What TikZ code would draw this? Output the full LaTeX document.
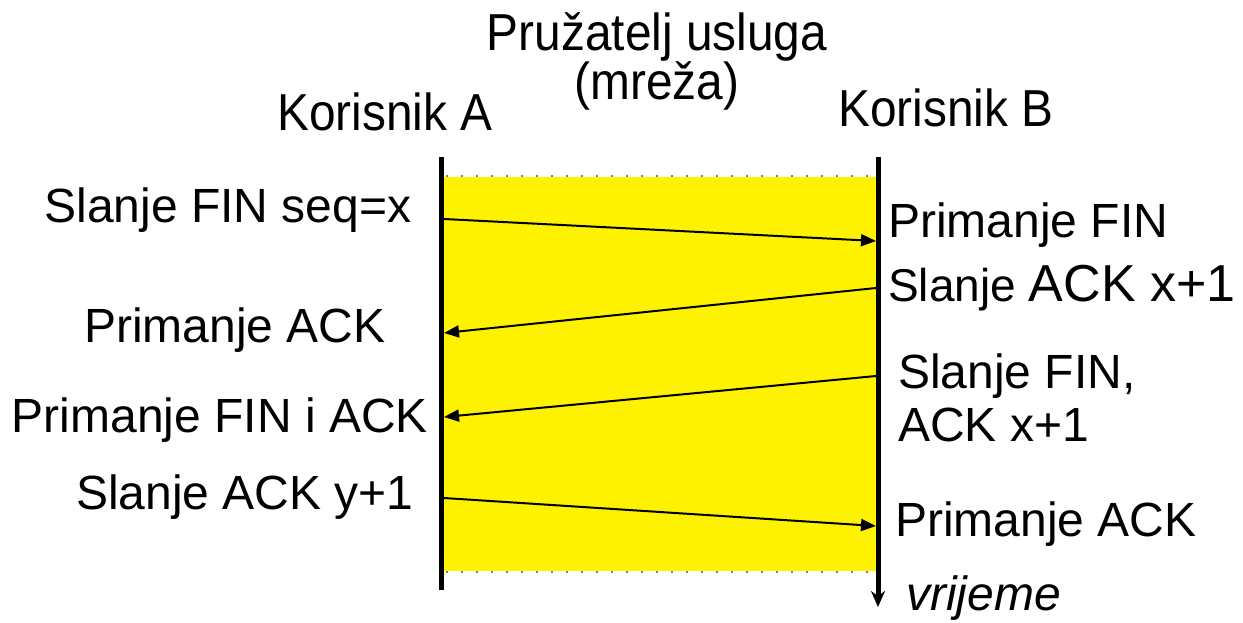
\documentclass[tikz,border=0pt]{standalone}
\usepackage{fontspec}
\setmainfont{Liberation Sans}
\usetikzlibrary{arrows.meta}

\newcommand{\narrowtxt}[1]{\scalebox{0.92}[1]{#1}}

\tikzset{
  lbl/.style={inner sep=0pt, font=\fontsize{48}{57}\selectfont},
  ttl/.style={inner sep=0pt, font=\fontsize{52}{60}\selectfont},
  msg/.style={line width=2pt, -{Triangle[length=15pt,width=12pt]}},
  lifeline/.style={line width=5pt},
  sep/.style={gray, line width=1.5pt, dash pattern=on 1.5pt off 13.5pt},
}

\begin{document}
\begin{tikzpicture}[x=1pt,y=-1pt]
\useasboundingbox (0,0) rectangle (1243,622);

% Network area
\fill[yellow] (444,177) rectangle (876,571);
\draw[sep] (446,176) -- (876,176);
\draw[sep] (446,572) -- (876,572);

% Lifelines
\coordinate (Atop) at (441,157);
\coordinate (Abot) at (441,590);
\coordinate (Btop) at (878,157);
\coordinate (Bbot) at (878,607);
\draw[lifeline] (Atop) -- (Abot);
\draw[lifeline, -{Stealth[length=16pt,width=14pt]}] (Btop) -- (Bbot);

% Headings
\node[ttl] (net) at (657,37) {\narrowtxt{Pružatelj usluga}};
\node[ttl] (netb) at (657,86) {\narrowtxt{(mreža)}};
\node[ttl] (userA) at (385,112) {\narrowtxt{Korisnik A}};
\node[ttl] (userB) at (946,108) {\narrowtxt{Korisnik B}};

% Left labels
\node[lbl] (sendfin) at (228,210) {Slanje FIN seq=x};
\node[lbl] (recack) at (235,330) {Primanje ACK};
\node[lbl] (recfinack) at (220,420) {Primanje FIN i ACK};
\node[lbl] (sendacky) at (245,497) {Slanje ACK y+1};

% Right labels
\node[lbl, anchor=west] (recfin) at (888,225) {Primanje FIN};
\node[lbl, anchor=west] (sendackx) at (888,288)
  {{\fontsize{46}{55}\selectfont Slanje }{\fontsize{52}{60}\selectfont ACK x+1}};
\node[lbl, anchor=west] (sendfinb) at (898,376) {Slanje FIN,};
\node[lbl, anchor=west] (ackx) at (898,425) {ACK x+1};
\node[lbl, anchor=west] (recackb) at (895,524) {Primanje ACK};
\node[lbl, anchor=west, font=\fontsize{48}{57}\selectfont\itshape] (time) at (906,598) {vrijeme};

% Message end points
\coordinate (a1) at (444,219);
\coordinate (b1) at (876,241);
\coordinate (b2) at (876,288);
\coordinate (a2) at (444,333);
\coordinate (b3) at (876,376);
\coordinate (a3) at (444,417);
\coordinate (a4) at (444,498);
\coordinate (b4) at (876,526);

% Messages
\draw[msg] (a1) -- (b1);
\draw[msg] (b2) -- (a2);
\draw[msg] (b3) -- (a3);
\draw[msg] (a4) -- (b4);
\end{tikzpicture}
\end{document}
